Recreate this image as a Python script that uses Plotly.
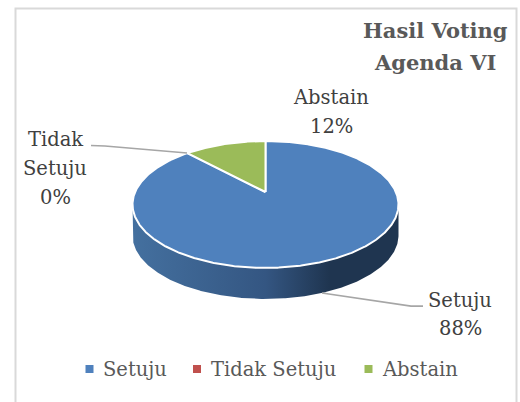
import math
import numpy as np
import plotly.graph_objects as go

categories = ["Setuju", "Tidak Setuju", "Abstain"]
values = [88, 0, 12]
top_colors = ["#4F81BD", "#C0504D", "#9BBB59"]
title_lines = ["Hasil Voting", "Agenda VI"]

W, H = 520, 402
CX, CY = 265.5, 192.0
A, B, K = 130.4, 61.0, 0.1966
DEPTH = 31
FONT = "DejaVu Serif"


def project(deg):
    t = np.radians(np.asarray(deg, dtype=float))
    u, v = np.sin(t), np.cos(t)
    d = 1 + K * v
    return CX + A * u / d, CY - B * v / d


fig = go.Figure()

# side wall
ang = np.linspace(0, 360, 721)
X, Y = project(ang)
il, ir = int(np.argmin(X)), int(np.argmax(X))
lower = ang[(ang >= ang[ir]) & (ang <= ang[il])]
lx, ly = project(lower)
fig.add_trace(go.Scatter(
    x=list(lx) + list(lx[::-1]), y=list(ly) + list((ly + DEPTH)[::-1]),
    mode="lines", fill="toself", line=dict(width=0), showlegend=False, hoverinfo="skip",
    fillgradient=dict(type="horizontal", colorscale=[
        [0, "#44709F"], [0.5, "#345682"], [0.74, "#1F3550"], [1, "#1F3550"]]),
))

# top slices
total = sum(values)
start = 0.0
for name, val, col in zip(categories, values, top_colors):
    end = start + val / total * 360
    if val > 0:
        a = np.linspace(start, end, max(int(val * 8), 2))
        x, y = project(a)
        fig.add_trace(go.Scatter(
            x=[CX] + list(x) + [CX], y=[CY] + list(y) + [CY],
            mode="lines", fill="toself", fillcolor=col, name=name,
            line=dict(color="white", width=2), showlegend=False, hoverinfo="skip",
        ))
    start = end

labels = [
    ("Abstain", 331, 97), ("12%", 331, 126),
    ("Tidak", 55, 139), ("Setuju", 55, 168), ("0%", 55, 197),
    ("Setuju", 460, 300), ("88%", 460, 328),
]
annotations = [
    dict(x=px, y=py, text=t, showarrow=False, xanchor="center", yanchor="middle",
         font=dict(family=FONT, size=19.5, color="#404040"))
    for t, px, py in labels
]
for line, py in zip(title_lines, [30, 62]):
    annotations.append(dict(x=435, y=py, text=line, showarrow=False, xanchor="center", yanchor="middle",
                            font=dict(family=FONT, size=21, color="#595959", weight="bold")))

leader = dict(color="#A6A6A6", width=1.75)
shapes = [
    dict(type="rect", x0=15.5, y0=8.5, x1=516.5, y1=420,
         line=dict(color="#D9D9D9", width=2), fillcolor="white", layer="below"),
    dict(type="path", path="M 91 145.5 L 105 146 L 187 153", line=leader),
    dict(type="path", path="M 322 293 L 411 306 L 423 306", line=leader),
]

# legend row
legend_key_x = [89.5, 197, 368.5]
legend_text_x = [101, 209, 380]
for name, col, kx, tx in zip(categories, top_colors, legend_key_x, legend_text_x):
    shapes.append(dict(type="rect", x0=kx - 4, x1=kx + 4, y0=365, y1=373,
                       line=dict(width=0), fillcolor=col))
    annotations.append(dict(x=tx, y=369, text=name, showarrow=False, xanchor="left", yanchor="middle",
                            font=dict(family=FONT, size=19.5, color="#595959")))

fig.update_layout(
    width=W, height=H,
    margin=dict(l=0, r=0, t=0, b=0),
    paper_bgcolor="white", plot_bgcolor="white",
    showlegend=False,
    xaxis=dict(range=[0, W], visible=False, fixedrange=True),
    yaxis=dict(range=[H, 0], visible=False, fixedrange=True),
    annotations=annotations,
    shapes=shapes,
)
fig.write_html("out.html", config={"displayModeBar": False},
               post_script="document.body.style.margin='0';document.documentElement.style.overflow='hidden';")
